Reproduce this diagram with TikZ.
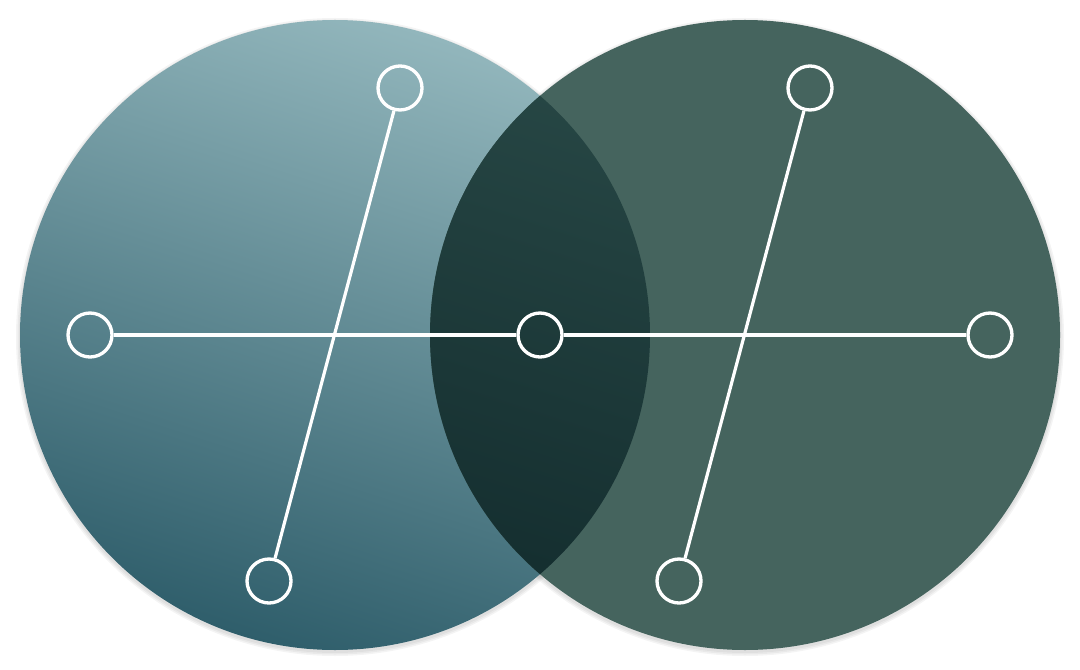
\documentclass[tikz,border=0pt]{standalone}
\usepackage{tikz}
\usetikzlibrary{positioning}
\definecolor{lefttop}{HTML}{92B6BC}
\definecolor{leftbottom}{HTML}{2F5E6B}
\definecolor{rightdisc}{HTML}{45645E}
\definecolor{overlaptop}{HTML}{274745}
\definecolor{overlapbottom}{HTML}{0F2729}
\tikzset{
  disc/.style={draw=none},
  ring/.style={circle, draw=white, line width=2.5pt, minimum size=33pt,
               inner sep=0pt, fill=none},
  spoke/.style={draw=white, line width=2.4pt},
  halo/.style={fill=black, opacity=0.045},
}
\begin{document}
\begin{tikzpicture}[x=0.75pt, y=-0.75pt]
    \useasboundingbox (0,0) rectangle (1080,670);
    % soft shadows
    \foreach \r in {316,317.5,319} {
      \fill[halo] (335,337) circle (\r);
      \fill[halo] (745,337) circle (\r);
    }
    % the two discs
    \shade[disc, top color=lefttop, bottom color=leftbottom, shading angle=-18]
      (335,335) circle (315);
    \fill[disc, rightdisc] (745,335) circle (315);
    % overlap, darker
    \begin{scope}
      \clip (745,335) circle (315);
      \shade[disc, top color=overlaptop, bottom color=overlapbottom, shading angle=-18]
        (335,335) circle (315);
    \end{scope}
    % rings
    \node[ring] (west) at (90,335) {};
    \node[ring] (mid) at (540,335) {};
    \node[ring] (east) at (990,335) {};
    \node[ring] (ltop) at (400,88) {};
    \node[ring] (lbot) at (269,581) {};
    \node[ring] (rtop) at (810,88) {};
    \node[ring] (rbot) at (679,581) {};
    % spokes
    \draw[spoke] (west) -- (mid);
    \draw[spoke] (mid) -- (east);
    \draw[spoke] (ltop) -- (lbot);
    \draw[spoke] (rtop) -- (rbot);
  \end{tikzpicture}
\end{document}
